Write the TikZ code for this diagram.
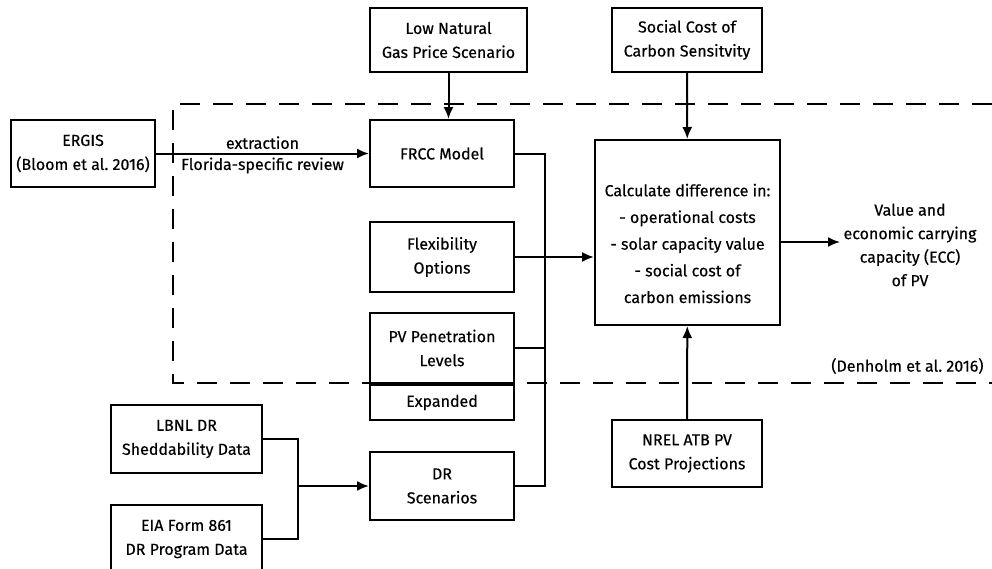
\documentclass[tikz,border=0pt]{standalone}
\usepackage{fontspec}
\setmainfont{Fira Sans}[FakeBold=0.35]
\usetikzlibrary{arrows.meta}
\tikzset{
	txt/.style={font=\fontsize{16}{24}\selectfont},
	box/.style={draw, line width=2pt, align=center, inner sep=0pt, txt},
	flow/.style={line width=2pt, -{Latex[length=12pt,width=10pt]}},
	bus/.style={line width=2pt}
}

\begin{document}
\begin{tikzpicture}[x=1pt, y=-1pt]
		%%%%% START %%%%%
		\useasboundingbox (0, 0) rectangle (992, 568);
		
		% study boundary
		\draw[line width=2pt, dash pattern=on 20pt off 13pt] (992, 104) -- (173, 104) -- (173, 383) -- (992, 383);
		\node[txt, anchor=east] (denholm) at (987, 366) {(Denholm et al.\ 2016)};
		
		% inputs on top
		\node[box, minimum width=157pt, minimum height=64pt] (lowgas) at (448.5, 40) {Low Natural\\Gas Price Scenario};
		\node[box, minimum width=150pt, minimum height=64pt] (scc) at (687, 40) {Social Cost of\\Carbon Sensitvity};
		
		% left column
		\node[box, minimum width=144pt, minimum height=67pt] (ergis) at (83, 153.5) {ERGIS\\(Bloom et al.\ 2016)};
		\node[box, minimum width=151pt, minimum height=68pt] (lbnl) at (186.5, 439) {LBNL DR\\Sheddability Data};
		\node[box, minimum width=151pt, minimum height=68pt] (eia) at (186.5, 539) {EIA Form 861\\DR Program Data};
		
		% model column
		\node[box, minimum width=144pt, minimum height=67pt] (frcc) at (442, 153.5) {FRCC Model};
		\node[box, minimum width=144pt, minimum height=70pt] (flex) at (442, 257) {Flexibility\\Options};
		\node[box, minimum width=144pt, minimum height=70pt] (pv) at (442, 348) {PV Penetration\\Levels};
		\node[box, minimum width=144pt, minimum height=35pt, anchor=north] (expanded) at (pv.south) {Expanded};
		\node[box, minimum width=144pt, minimum height=68pt] (dr) at (442, 486) {DR\\Scenarios};
		
		% calculation
		\node[box, minimum width=185pt, minimum height=185pt] (calc) at (687.5, 232.5) {};
		\node[txt, align=center, font=\fontsize{16}{26.7}\selectfont] (calctext) at (687.5, 243.5) {Calculate difference in:\\- operational costs\\- solar capacity value\\- social cost of\\carbon emissions};
		\node[box, minimum width=150pt, minimum height=67pt] (nrel) at (687, 453.5) {NREL ATB PV\\Cost Projections};
		\node[txt, align=center, font=\fontsize{16}{23.5}\selectfont] (ecc) at (910, 245) {Value and\\economic carrying\\capacity (ECC)\\of PV};
		
		\coordinate (busF) at (545, 153.5);
		\coordinate (busD) at (545, 486);
		\coordinate (busL) at (298, 486);
		
		% connectors
		\draw[flow] (lowgas) -- (lowgas |- frcc.north);
		\draw[flow] (scc) -- (calc);
		\draw[flow] (nrel) -- (calc);
		\draw[flow] (ergis) -- node[above, txt, inner sep=3.5pt] {extraction} node[below, txt, inner sep=3pt] {Florida-specific review} (frcc);
		
		\draw[bus] (frcc.east) -- (busF) -- (busD) -- (dr.east);
		\draw[bus] (flex.east) -- (flex.east -| busF);
		\draw[bus] (pv.east) -- (pv.east -| busF);
		\draw[flow] (flex.east -| busF) -- (calc.west |- flex.east);
		
		\draw[bus] (lbnl.east) -| (busL) |- (eia.east);
		\draw[flow] (busL) -- (dr.west);
		
		\draw[flow] (calc.east |- 0, 242) -- (ecc.west |- 0, 242);
		
		%%%%% END %%%%%
	\end{tikzpicture}
\end{document}
